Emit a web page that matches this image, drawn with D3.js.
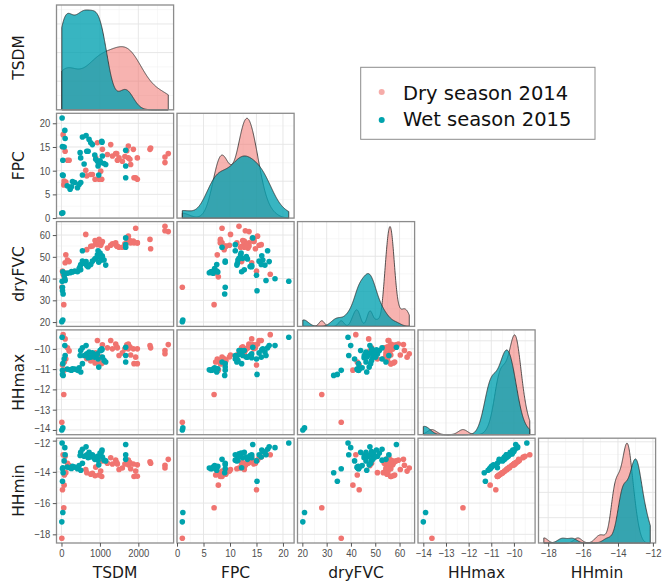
<!DOCTYPE html>
<html>
<head>
<meta charset="utf-8">
<script src="https://cdn.jsdelivr.net/npm/d3@7"></script>
<style>
  body { margin: 0; background: #fff; }
  .tick text { font-family: "Liberation Sans", Arial, sans-serif; font-size: 11px; fill: #4d4d4d; }
  .tick line { stroke: #555; }
</style>
</head>
<body>
<svg id="cont" width="664" height="582"></svg>
<script>
// variables of the pairs plot
var vars = ["TSDM", "FPC", "dryFVC", "HHmax", "HHmin"];
var seasons = ["Dry season 2014", "Wet season 2015"];

// tick labels per variable
var tickTSDM = [0, 1000, 2000];
var tickFPC = [0, 5, 10, 15, 20];
var tickDryFVC = [20, 30, 40, 50, 60];
var tickHHmax = [-14, -13, -12, -11, -10];
var tickHHmin = [-18, -16, -14, -12];

// dry season 2014 (one entry per site)
var dryTSDM   = [9, 60, 26, 69, 43, 95, 156, 199, 113, 75, 632, 658, 762, 805, 874, 892, 935, 978, 1021, 1047, 1065, 1195, 1281, 1325, 1411, 1437, 1455, 1498, 1584, 1740, 1740, 1800, 1870, 1887, 1931, 1974, 1974, 2303, 2320, 2693, 2693, 2779, 1650, 1780, 1700];
var dryFPC    = [1.0, 7.0, 15.0, 7.8, 17.6, 14.1, 12.2, 12.2, 7.6, 7.3, 10.1, 8.9, 9.2, 9.2, 8.2, 12.7, 15.9, 8.2, 9.9, 8.2, 14.5, 13.4, 15.5, 13.1, 13.6, 13.6, 12.2, 12.7, 12.0, 12.7, 15.2, 11.3, 14.5, 8.5, 8.5, 12.7, 8.2, 14.5, 14.8, 11.7, 12.9, 13.6, 13.0, 12.4, 14.2];
var dryDryFVC = [36.0, 28.0, 43.4, 40.8, 42.0, 47.3, 48.5, 47.8, 50.9, 42.6, 60.3, 53.3, 54.8, 55.0, 57.5, 56.0, 55.6, 58.0, 55.3, 56.5, 57.0, 54.0, 55.3, 56.0, 56.4, 55.0, 54.8, 54.4, 54.4, 57.2, 59.5, 56.4, 57.2, 56.4, 63.1, 56.4, 56.4, 58.0, 53.7, 64.0, 62.0, 61.6, 56.0, 57.5, 58.5];
var dryHHmax  = [-13.62, -12.25, -10.8, -11.05, -9.3, -9.51, -9.95, -10.1, -10.5, -10.65, -10.3, -10.49, -10.6, -10.55, -10.7, -10.2, -9.59, -10.65, -10.4, -10.72, -9.8, -9.95, -9.59, -10.0, -9.76, -9.9, -9.95, -10.33, -10.2, -10.0, -9.76, -10.3, -10.0, -10.73, -10.41, -10.0, -10.73, -9.84, -9.95, -10.24, -10.08, -9.79, -10.0, -9.9, -9.8];
var dryHHmin  = [-18.25, -16.3, -15.15, -14.85, -12.9, -13.0, -13.45, -13.6, -14.05, -14.2, -13.85, -14.05, -14.15, -14.1, -14.25, -13.7, -13.05, -14.2, -13.95, -14.3, -13.3, -13.45, -13.1, -13.5, -13.25, -13.4, -13.5, -13.85, -13.75, -13.55, -13.25, -13.8, -13.5, -14.3, -13.95, -13.55, -14.28, -13.35, -13.45, -13.75, -13.58, -13.2, -13.5, -13.4, -13.3];

// wet season 2015
var wetTSDM   = [9, 35, 17, 87, 95, 26, 35, 26, 43, 70, 225, 286, 346, 416, 459, 502, 485, 500, 545, 545, 589, 640, 658, 693, 718, 762, 805, 866, 892, 935, 952, 970, 1004, 1021, 1047, 1055, 1065, 1108, 1151, 1671, 1671, 1671, 150, 260];
var wetFPC    = [1.0, 1.1, 21.1, 18.5, 16.8, 15.1, 12.2, 9.1, 9.0, 15.0, 6.1, 7.7, 7.5, 6.4, 7.1, 7.5, 13.8, 12.7, 9.1, 17.1, 11.4, 17.4, 14.1, 14.1, 16.6, 15.9, 15.5, 13.3, 12.4, 12.0, 11.0, 9.1, 12.1, 11.7, 16.2, 16.0, 13.1, 11.5, 11.3, 14.3, 11.0, 8.5, 6.8, 6.6];
var wetDryFVC = [20.2, 20.9, 38.8, 39.9, 39.1, 34.4, 43.1, 36.0, 32.9, 41.5, 42.7, 43.0, 43.4, 43.1, 44.6, 46.5, 45.5, 44.0, 48.1, 52.8, 47.0, 47.8, 46.0, 45.4, 46.2, 46.5, 48.0, 49.0, 49.3, 50.9, 52.8, 47.5, 51.7, 49.3, 48.5, 50.5, 50.1, 48.5, 46.2, 58.7, 55.6, 54.4, 42.5, 43.2];
var wetHHmax  = [-14.0, -13.9, -9.43, -9.84, -10.33, -11.26, -10.73, -11.06, -11.31, -10.5, -11.03, -10.98, -11.0, -11.06, -10.93, -11.14, -10.33, -10.08, -10.73, -9.95, -10.33, -9.84, -10.25, -10.44, -10.16, -10.41, -10.2, -10.41, -10.33, -10.25, -10.5, -10.9, -10.08, -10.08, -10.0, -10.05, -10.41, -10.57, -10.65, -9.92, -10.33, -10.65, -11.0, -11.05];
var wetHHmin  = [-17.2, -16.6, -12.15, -12.45, -12.9, -14.6, -13.74, -13.8, -14.06, -13.3, -13.75, -13.65, -13.7, -13.8, -13.6, -13.9, -12.95, -12.75, -13.45, -12.55, -13.0, -12.4, -12.9, -13.1, -12.75, -13.05, -12.9, -13.2, -13.1, -13.0, -13.25, -13.55, -12.8, -12.85, -12.7, -12.6, -13.05, -13.25, -13.3, -12.25, -12.9, -13.2, -13.7, -13.78];

var ticks = {TSDM: tickTSDM, FPC: tickFPC, dryFVC: tickDryFVC, HHmax: tickHHmax, HHmin: tickHHmin};

var rows = [];
dryTSDM.forEach((d, i) => rows.push({g: 0, TSDM: d, FPC: dryFPC[i], dryFVC: dryDryFVC[i], HHmax: dryHHmax[i], HHmin: dryHHmin[i]}));
wetTSDM.forEach((d, i) => rows.push({g: 1, TSDM: d, FPC: wetFPC[i], dryFVC: wetDryFVC[i], HHmax: wetHHmax[i], HHmin: wetHHmin[i]}));

var body = d3.select("#cont");

var colX = [56.5, 177, 297.5, 418, 538.5], pw = 117.1;
var rowY = [5, 113.3, 221.6, 329.9, 438.2], ph = 104.8;

var ptColor = ["#F07470", "#00A3AD"];
var fillColor = ["#F07470", "#00A0B0"];
var fillOp = [0.55, 0.78];
var fmt = d3.format("d");

// one scale per variable for x (columns) and y (rows), 5% expansion like ggplot
var scX = {}, scY = {};
vars.forEach((v, i) => {
    let ext = d3.extent(rows, r => r[v]);
    let pad = (ext[1] - ext[0]) * 0.05;
    scX[v] = d3.scaleLinear().domain([ext[0] - pad, ext[1] + pad]).range([colX[i], colX[i] + pw]);
    scY[v] = d3.scaleLinear().domain([ext[0] - pad, ext[1] + pad]).range([rowY[i] + ph, rowY[i]]);
});

function minorOf(tk, dom) {
    let step = tk[1] - tk[0], out = [];
    for (let t = tk[0] - step * 2.5; t <= dom[1]; t += step) if (t >= dom[0]) out.push(t);
    return out;
}

function bwNrd0(v) {
    let s = d3.deviation(v);
    let srt = v.slice().sort(d3.ascending);
    let iqr = d3.quantileSorted(srt, 0.75) - d3.quantileSorted(srt, 0.25);
    return 0.9 * Math.min(s, iqr / 1.34) * Math.pow(v.length, -0.2);
}

function kde(v, xs) {
    let bw = bwNrd0(v);
    return xs.map(x => [x, d3.mean(v, d => Math.exp(-0.5 * ((x - d) / bw) ** 2)) / (bw * Math.sqrt(2 * Math.PI))]);
}

function grid(g, xs, ys, sx, sy, x0, y0) {
    let dx = sx.domain(), dy = sy.domain();
    let xt = xs.filter(t => t >= dx[0] && t <= dx[1]);
    let yt = ys.filter(t => t >= dy[0] && t <= dy[1]);
    g.selectAll(".mnx").data(minorOf(xs, dx)).enter().append("line")
        .attr("x1", d => sx(d)).attr("x2", d => sx(d)).attr("y1", y0).attr("y2", y0 + ph)
        .attr("stroke", "#f1f1f1").attr("stroke-width", 0.6);
    g.selectAll(".mny").data(minorOf(ys, dy)).enter().append("line")
        .attr("y1", d => sy(d)).attr("y2", d => sy(d)).attr("x1", x0).attr("x2", x0 + pw)
        .attr("stroke", "#f1f1f1").attr("stroke-width", 0.6);
    g.selectAll(".mjx").data(xt).enter().append("line")
        .attr("x1", d => sx(d)).attr("x2", d => sx(d)).attr("y1", y0).attr("y2", y0 + ph)
        .attr("stroke", "#e4e4e4").attr("stroke-width", 0.9);
    g.selectAll(".mjy").data(yt).enter().append("line")
        .attr("y1", d => sy(d)).attr("y2", d => sy(d)).attr("x1", x0).attr("x2", x0 + pw)
        .attr("stroke", "#e4e4e4").attr("stroke-width", 0.9);
}

vars.forEach((vy, i) => {
    vars.forEach((vx, j) => {
        if (j > i) return;
        let g = body.append("g");
        let sx = scX[vx];
        if (i == j) {
            // diagonal: density of each season
            let ext = d3.extent(rows, r => r[vx]);
            let xs = d3.range(512).map(k => ext[0] + (ext[1] - ext[0]) * k / 511);
            let dens = [0, 1].map(s => kde(rows.filter(r => r.g == s).map(r => r[vx]), xs));
            let ymax = d3.max(dens, d => d3.max(d, p => p[1]));
            let sy = d3.scaleLinear().domain([0, ymax * 1.05]).range([rowY[i] + ph, rowY[i]]);
            let yt = sy.ticks(4);
            grid(g, ticks[vx], yt, sx, sy, colX[j], rowY[i]);
            let area = d3.area().x(d => sx(d[0])).y0(sy(0)).y1(d => sy(d[1]));
            g.selectAll(".dens").data(dens).enter().append("path")
                .attr("d", area)
                .attr("fill", (d, s) => fillColor[s])
                .attr("fill-opacity", (d, s) => fillOp[s])
                .attr("stroke", "#2b2b2b")
                .attr("stroke-width", 0.8);
        } else {
            let sy = scY[vy];
            grid(g, ticks[vx], ticks[vy], sx, sy, colX[j], rowY[i]);
            g.selectAll("circle").data(rows).enter().append("circle")
                .attr("cx", d => sx(d[vx]))
                .attr("cy", d => sy(d[vy]))
                .attr("r", 2.8)
                .attr("fill", d => ptColor[d.g]);
        }
        g.append("rect")
            .attr("x", colX[j]).attr("y", rowY[i]).attr("width", pw).attr("height", ph)
            .attr("fill", "none").attr("stroke", "#8c8c8c").attr("stroke-width", 1.3);
    });
});

// left axes (rows 2-5) and bottom axes (all columns); labels squeezed like the original
vars.forEach((v, i) => {
    if (i > 0) {
        let ax = body.append("g").attr("transform", "translate(" + colX[0] + ",0)")
            .call(d3.axisLeft(scY[v]).tickValues(ticks[v]).tickFormat(fmt).tickSize(3.7).tickPadding(2.5))
            .call(g => g.select(".domain").remove())
            .call(g => g.selectAll("text").attr("x", -6.2 / 0.86).attr("transform", "scale(0.86,1)"));
        // the bottom label of HHmax and the top label of HHmin sit very close: nudge apart
        if (v == "HHmax") ax.selectAll("text").filter(d => d == -14).attr("dy", "0.1em");
        if (v == "HHmin") ax.selectAll("text").filter(d => d == -12).attr("dy", "0.55em");
    }
    body.append("g").attr("transform", "translate(0," + (rowY[4] + ph) + ")")
        .call(d3.axisBottom(scX[v]).tickValues(ticks[v]).tickFormat(fmt).tickSize(3.7).tickPadding(2))
        .call(g => g.select(".domain").remove())
        .call(g => g.selectAll("text").attr("transform", "scale(0.86,1)"));

    body.append("text")
        .attr("transform", "translate(24," + (rowY[i] + ph / 2) + ") rotate(-90)")
        .attr("text-anchor", "middle")
        .style("font-family", "DejaVu Sans")
        .style("font-size", "15.5px")
        .attr("fill", "#1a1a1a")
        .text(v);
    body.append("text")
        .attr("x", colX[i] + pw / 2).attr("y", 578)
        .attr("text-anchor", "middle")
        .style("font-family", "DejaVu Sans")
        .style("font-size", "15.5px")
        .attr("fill", "#1a1a1a")
        .text(v);
});

// legend
let lg = body.append("g");
lg.append("rect").attr("x", 360.7).attr("y", 67.3).attr("width", 234.3).attr("height", 72)
    .attr("fill", "#fff").attr("stroke", "#8c8c8c").attr("stroke-width", 1);
seasons.forEach((s, k) => {
    lg.append("circle").attr("cx", 381.7).attr("cy", 92 + k * 28).attr("r", 3)
        .attr("fill", ptColor[k]).attr("fill-opacity", k == 0 ? 0.6 : 1);
    lg.append("text").attr("x", 403).attr("y", 100 + k * 26)
        .style("font-family", "DejaVu Sans").style("font-size", "19.5px")
        .attr("fill", "#111").text(s);
});
</script>
</body>
</html>
